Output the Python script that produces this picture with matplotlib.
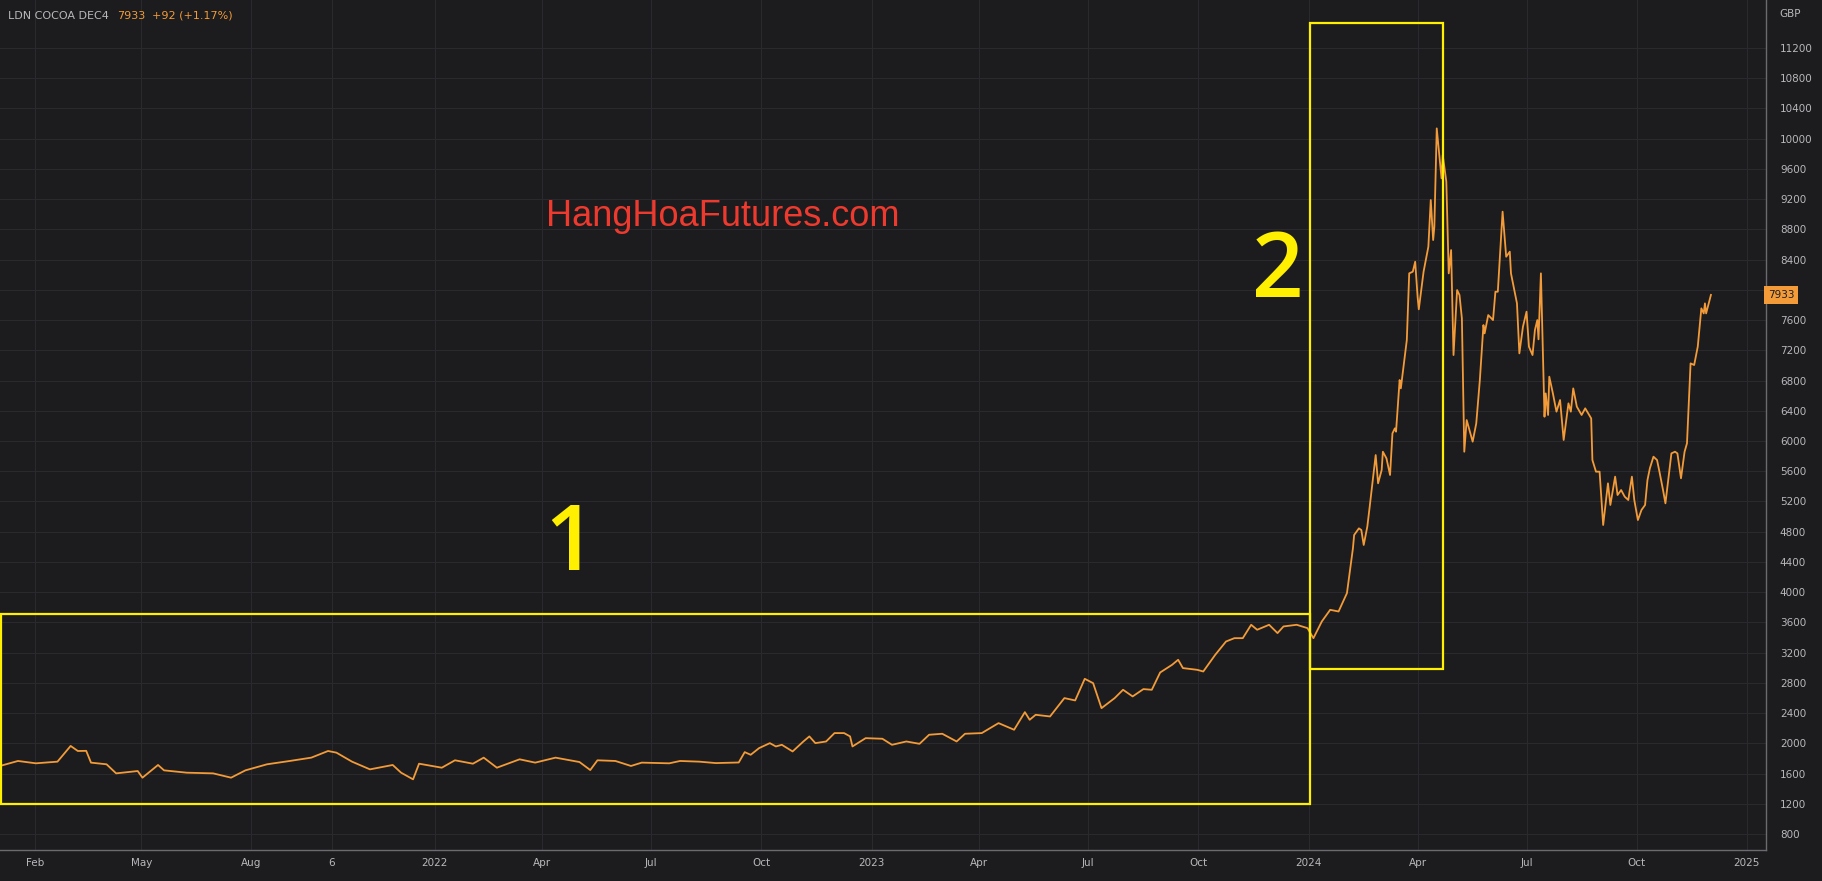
import pandas as pd
import matplotlib
matplotlib.use("Agg")
import matplotlib.pyplot as plt
import matplotlib.dates as mdates
import matplotlib.transforms as mtransforms
from matplotlib.patches import Rectangle

# price series (LDN cocoa Dec-24, GBP)
dates = [
    "2021-01-03", "2021-01-18", "2021-02-02", "2021-02-20", "2021-03-03", "2021-03-09",
    "2021-03-16", "2021-03-20", "2021-04-02", "2021-04-10", "2021-04-28", "2021-05-02",
    "2021-05-15", "2021-05-20", "2021-06-08", "2021-06-30", "2021-07-15", "2021-07-27",
    "2021-08-14", "2021-09-02", "2021-09-20", "2021-10-04", "2021-10-11", "2021-10-24",
    "2021-11-08", "2021-11-27", "2021-12-04", "2021-12-14", "2021-12-19", "2022-01-07",
    "2022-01-18", "2022-02-02", "2022-02-11", "2022-02-22", "2022-03-13", "2022-03-26",
    "2022-04-12", "2022-05-02", "2022-05-11", "2022-05-17", "2022-06-01", "2022-06-14",
    "2022-06-23", "2022-07-16", "2022-07-25", "2022-08-10", "2022-08-24", "2022-09-12",
    "2022-09-17", "2022-09-22", "2022-09-29", "2022-10-08", "2022-10-13", "2022-10-18",
    "2022-10-27", "2022-11-05", "2022-11-10", "2022-11-15", "2022-11-24", "2022-12-01",
    "2022-12-09", "2022-12-14", "2022-12-16", "2022-12-27", "2023-01-10", "2023-01-18",
    "2023-01-30", "2023-02-10", "2023-02-18", "2023-03-01", "2023-03-13", "2023-03-20",
    "2023-04-03", "2023-04-17", "2023-04-30", "2023-05-09", "2023-05-13", "2023-05-18",
    "2023-05-30", "2023-06-11", "2023-06-20", "2023-06-28", "2023-07-05", "2023-07-12",
    "2023-07-23", "2023-07-30", "2023-08-07", "2023-08-16", "2023-08-23", "2023-08-30",
    "2023-09-09", "2023-09-14", "2023-09-18", "2023-09-30", "2023-10-05", "2023-10-15",
    "2023-10-24", "2023-10-31", "2023-11-07", "2023-11-14", "2023-11-19", "2023-11-29",
    "2023-12-06", "2023-12-11", "2023-12-22", "2023-12-31", "2024-01-05", "2024-01-12",
    "2024-01-19", "2024-01-26", "2024-02-02", "2024-02-07", "2024-02-08", "2024-02-12",
    "2024-02-14", "2024-02-16", "2024-02-19", "2024-02-21", "2024-02-26", "2024-02-28",
    "2024-03-02", "2024-03-03", "2024-03-06", "2024-03-09", "2024-03-11", "2024-03-13",
    "2024-03-14", "2024-03-17", "2024-03-18", "2024-03-23", "2024-03-25", "2024-03-28",
    "2024-03-30", "2024-04-01", "2024-04-02", "2024-04-06", "2024-04-10", "2024-04-12",
    "2024-04-14", "2024-04-15", "2024-04-17", "2024-04-21", "2024-04-22", "2024-04-25",
    "2024-04-27", "2024-04-29", "2024-05-01", "2024-05-04", "2024-05-06", "2024-05-08",
    "2024-05-10", "2024-05-12", "2024-05-17", "2024-05-20", "2024-05-23", "2024-05-26",
    "2024-05-27", "2024-05-30", "2024-06-03", "2024-06-05", "2024-06-07", "2024-06-11",
    "2024-06-14", "2024-06-17", "2024-06-18", "2024-06-23", "2024-06-25", "2024-06-28",
    "2024-07-01", "2024-07-03", "2024-07-06", "2024-07-08", "2024-07-10", "2024-07-11",
    "2024-07-13", "2024-07-16", "2024-07-17", "2024-07-19", "2024-07-20", "2024-07-23",
    "2024-07-26", "2024-07-29", "2024-08-01", "2024-08-05", "2024-08-07", "2024-08-09",
    "2024-08-12", "2024-08-16", "2024-08-19", "2024-08-24", "2024-08-25", "2024-08-28",
    "2024-08-31", "2024-09-03", "2024-09-06", "2024-09-07", "2024-09-09", "2024-09-13",
    "2024-09-15", "2024-09-18", "2024-09-21", "2024-09-24", "2024-09-25", "2024-09-27",
    "2024-09-29", "2024-10-02", "2024-10-05", "2024-10-08", "2024-10-10", "2024-10-12",
    "2024-10-15", "2024-10-18", "2024-10-20", "2024-10-23", "2024-10-25", "2024-10-27",
    "2024-10-30", "2024-11-02", "2024-11-04", "2024-11-07", "2024-11-10", "2024-11-12",
    "2024-11-15", "2024-11-18", "2024-11-21", "2024-11-24", "2024-11-26", "2024-11-27",
    "2024-11-28", "2024-12-02",
]
prices = [
    1700, 1766, 1735, 1757, 1965, 1898,
    1900, 1744, 1722, 1602, 1633, 1545,
    1713, 1642, 1611, 1602, 1545, 1642,
    1722, 1766, 1810, 1898, 1876, 1757,
    1655, 1713, 1611, 1523, 1730, 1677,
    1775, 1730, 1810, 1677, 1788, 1744,
    1810, 1752, 1646, 1775, 1766, 1700,
    1744, 1735, 1766, 1757, 1738, 1746,
    1883, 1848, 1936, 2002, 1958, 1980,
    1892, 2024, 2091, 2002, 2024, 2135,
    2135, 2091, 1958, 2068, 2060, 1980,
    2024, 1993, 2113, 2126, 2024, 2126,
    2135, 2267, 2179, 2412, 2311, 2377,
    2355, 2598, 2567, 2853, 2796, 2465,
    2598, 2708, 2620, 2717, 2708, 2937,
    3039, 3105, 2995, 2972, 2950, 3171,
    3347, 3391, 3391, 3568, 3502, 3568,
    3458, 3546, 3568, 3524, 3391, 3612,
    3766, 3744, 3987, 4580, 4756, 4844,
    4822, 4624, 4866, 5131, 5814, 5440,
    5616, 5858, 5770, 5550, 6101, 6167,
    6123, 6807, 6696, 7336, 8218, 8240,
    8372, 7909, 7742, 8240, 8571, 9188,
    8659, 8835, 10136, 9475, 9783, 9431,
    8218, 8526, 7137, 7997, 7931, 7622,
    5858, 6277, 5991, 6233, 6807, 7534,
    7424, 7666, 7600, 7975, 7975, 9034,
    8438, 8505, 8218, 7821, 7159, 7512,
    7711, 7248, 7137, 7468, 7600, 7345,
    8218, 6321, 6630, 6344, 6851, 6630,
    6388, 6542, 6013, 6498, 6388, 6696,
    6454, 6344, 6432, 6299, 5748, 5594,
    5594, 4888, 5307, 5440, 5153, 5528,
    5285, 5351, 5263, 5219, 5329, 5528,
    5219, 4954, 5087, 5153, 5484, 5638,
    5792, 5748, 5594, 5351, 5175, 5440,
    5836, 5858, 5836, 5506, 5858, 5969,
    7027, 7005, 7248, 7755, 7688, 7821,
    7688, 7933,
]

last_price = 7933
change_text = "+92 (+1.17%)"
symbol = "LDN COCOA DEC4"

x_tick_dates = ["2021-02-01", "2021-05-01", "2021-08-01", "2021-10-07", "2022-01-01",
                "2022-04-01", "2022-07-01", "2022-10-01", "2023-01-01", "2023-04-01",
                "2023-07-01", "2023-10-01", "2024-01-01", "2024-04-01", "2024-07-01",
                "2024-10-01", "2025-01-01"]
x_tick_labels = ["Feb", "May", "Aug", "6", "2022", "Apr", "Jul", "Oct", "2023",
                 "Apr", "Jul", "Oct", "2024", "Apr", "Jul", "Oct", "2025"]
y_ticks = list(range(800, 11201, 400))

# highlighted zones: (start date, end date, low, high)
zone1 = ("2021-01-04", "2024-01-02", 1197, 3711)
zone2 = ("2024-01-02", "2024-04-22", 2983, 11530)

BG = "#1c1c1f"
GRID = "#2a2a2e"
TXT = "#b8b8bc"
ORANGE = "#f39b38"
YELLOW = "#ffef00"

df = pd.DataFrame({"date": pd.to_datetime(dates), "price": prices})

fig = plt.figure(figsize=(18.22, 8.81), dpi=100, facecolor=BG)
ax = fig.add_axes([0.0, 31 / 881, 1766 / 1822, 850 / 881], facecolor=BG)

ax.plot(df["date"], df["price"], color=ORANGE, lw=1.3, zorder=3)

ax.set_xlim(pd.Timestamp("2021-01-03"), pd.Timestamp("2025-01-17"))
ax.set_ylim(588, 11835)

ax.set_xticks(pd.to_datetime(x_tick_dates))
ax.set_xticklabels(x_tick_labels)
ax.set_yticks(y_ticks)
# the 8000 label sits under the last-price tag
ax.set_yticklabels(["" if v == 8000 else str(v) for v in y_ticks])
ax.yaxis.tick_right()
ax.tick_params(axis="both", length=0, colors=TXT, labelsize=7.5)
ax.tick_params(axis="y", pad=10)
ax.tick_params(axis="x", pad=6)
ax.grid(True, color=GRID, lw=0.8)
ax.set_axisbelow(True)

for s in ["top", "left"]:
    ax.spines[s].set_visible(False)
for s in ["right", "bottom"]:
    ax.spines[s].set_color("#6a6a70")
    ax.spines[s].set_linewidth(1.0)

# yellow boxes
for z in (zone1, zone2):
    x0 = mdates.date2num(pd.Timestamp(z[0]))
    x1 = mdates.date2num(pd.Timestamp(z[1]))
    ax.add_patch(Rectangle((x0, z[2]), x1 - x0, z[3] - z[2], fill=False,
                           ec=YELLOW, lw=1.6, zorder=4, clip_on=True))

ax.text(pd.Timestamp("2022-04-24"), 4610, "1", color=YELLOW, fontsize=65,
        family="Open Sans", weight="semibold", ha="center", va="center", zorder=5)
ax.text(pd.Timestamp("2023-12-06"), 8210, "2", color=YELLOW, fontsize=65,
        family="Open Sans", weight="semibold", ha="center", va="center", zorder=5)

ax.text(0.4094, 0.745, "HangHoaFutures.com", transform=ax.transAxes, color="#ee3a2e",
        fontsize=26, family="Liberation Sans", ha="center", va="center")

# header
fig.text(8 / 1822, 1 - 16 / 881, symbol, color=TXT, fontsize=8, va="center")
fig.text(117 / 1822, 1 - 16 / 881, str(last_price), color=ORANGE, fontsize=8, va="center")
fig.text(152 / 1822, 1 - 16 / 881, change_text, color=ORANGE, fontsize=8, va="center")
fig.text(1779 / 1822, 1 - 14 / 881, "GBP", color=TXT, fontsize=7.5, va="center")

# last price tag on the axis
trans = mtransforms.blended_transform_factory(ax.transAxes, ax.transData)
ax.text(1.0012, last_price, str(last_price), transform=trans, color="#1c1c1f",
        fontsize=7.5, ha="left", va="center", zorder=6, clip_on=False,
        bbox=dict(boxstyle="square,pad=0.35", fc=ORANGE, ec="none"))

fig.savefig("out.png", dpi=100, facecolor=BG)
